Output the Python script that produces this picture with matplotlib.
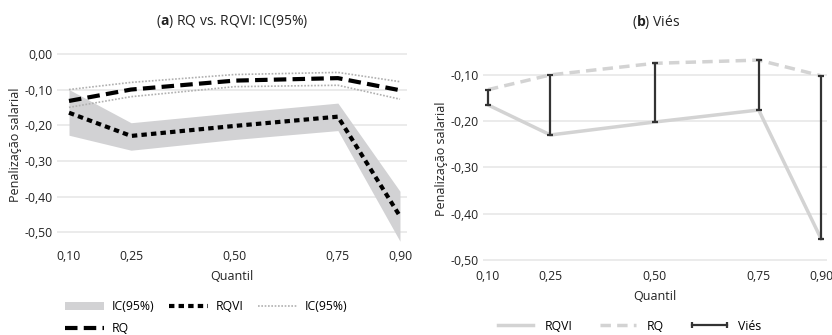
import numpy as np
import matplotlib.pyplot as plt
from matplotlib.patches import Patch
from matplotlib.lines import Line2D

plt.rcParams['font.family'] = ['Open Sans', 'DejaVu Sans']
plt.rcParams['mathtext.fontset'] = 'custom'
plt.rcParams['mathtext.rm'] = 'Open Sans'
plt.rcParams['mathtext.bf'] = 'Open Sans:bold'

# dados
quantis = [0.10, 0.25, 0.50, 0.75, 0.90]
q_labels = ['0,10', '0,25', '0,50', '0,75', '0,90']
rq = [-0.132, -0.100, -0.075, -0.068, -0.102]
rq_lo = [-0.150, -0.120, -0.092, -0.088, -0.127]
rq_hi = [-0.100, -0.080, -0.058, -0.052, -0.078]
rqvi = [-0.165, -0.230, -0.202, -0.176, -0.455]
rqvi_lo = [-0.228, -0.270, -0.240, -0.215, -0.525]
rqvi_hi = [-0.100, -0.193, -0.165, -0.138, -0.385]

left_yticks = [0.0, -0.1, -0.2, -0.3, -0.4, -0.5]
right_yticks = [-0.1, -0.2, -0.3, -0.4, -0.5]

def fmt(v):
    return ('%.2f' % v).replace('.', ',')

fig = plt.figure(figsize=(8.32, 3.35), dpi=100)
W, H = 832, 335
ax0 = fig.add_axes([57/W, 1-243/H, (407-57)/W, (243-46)/H])
ax1 = fig.add_axes([483/W, 1-263/H, (827-483)/W, (263-55)/H])

grid_c = '#e8e8e8'
tc = '#222222'

# (a)
ax0.fill_between(quantis, rqvi_lo, rqvi_hi, color='#d2d2d4', lw=0, zorder=2)
ax0.plot(quantis, rq_hi, color='#b0b0b0', lw=1.2, ls=(0, (1, 1)), zorder=3)
ax0.plot(quantis, rq_lo, color='#b0b0b0', lw=1.2, ls=(0, (1, 1)), zorder=3)
ax0.plot(quantis, rqvi, color='black', lw=3, ls=(0, (1.3, 1)), zorder=4)
ax0.plot(quantis, rq, color='black', lw=3, ls=(0, (3, 1.5)), zorder=4)
ax0.set_xlim(0.071, 0.917)
ax0.set_ylim(-0.53, 0.022)
ax0.set_yticks(left_yticks)
ax0.set_yticklabels([fmt(v) for v in left_yticks])
fig.text(232/W, 1-22/H, '($\\mathbf{a}$) RQ vs. RQVI: IC(95%)', fontsize=10,
         color=tc, ha='center', va='center')

# (b)
ax1.plot(quantis, rqvi, color='#d3d3d3', lw=2.5, zorder=2)
ax1.plot(quantis, rq, color='#d3d3d3', lw=2.5, ls=(0, (3, 1.8)), zorder=2)
for q, a, b in zip(quantis, rqvi, rq):
    ax1.errorbar([q], [(a+b)/2], yerr=[[(b-a)/2]], color='#333333', lw=1.6,
                 capsize=2.5, capthick=1.6, zorder=3)
ax1.set_xlim(0.088, 0.914)
ax1.set_ylim(-0.507, -0.057)
ax1.set_yticks(right_yticks)
ax1.set_yticklabels([fmt(v) for v in right_yticks])
fig.text(656/W, 1-22/H, '($\\mathbf{b}$) Viés', fontsize=10,
         color=tc, ha='center', va='center')

for ax in (ax0, ax1):
    ax.set_xticks(quantis)
    ax.set_xticklabels(q_labels)
    for s in ax.spines.values():
        s.set_visible(False)
    ax.tick_params(length=0, labelsize=8.8, colors=tc)
    ax.tick_params(axis='y', pad=3)
    ax.tick_params(axis='x', pad=5)
    ax.yaxis.grid(True, color=grid_c, lw=1.2, zorder=0)
    ax.set_axisbelow(True)
    ax.set_xlabel('Quantil', fontsize=9, color=tc, labelpad=5)
    ax.set_ylabel('Penalização salarial', fontsize=9, color=tc, labelpad=2)

# legendas
h_ic = Patch(facecolor='#d2d2d4', edgecolor='none')
h_rq = Line2D([], [], color='black', lw=3, ls=(0, (3, 1.5)))
h_rqvi = Line2D([], [], color='black', lw=3, ls=(0, (1.3, 1)))
h_icd = Line2D([], [], color='#b0b0b0', lw=1.2, ls=(0, (1, 1)))
fig.legend([h_ic, h_rq, h_rqvi, h_icd], ['IC(95%)', 'RQ', 'RQVI', 'IC(95%)'],
           ncol=3, frameon=False, fontsize=8.8, loc='upper left',
           bbox_to_anchor=(58/W, 1-293/H), handlelength=3.2, handletextpad=0.6,
           columnspacing=1.2, labelspacing=0.75, borderaxespad=0.2)

h1 = Line2D([], [], color='#d3d3d3', lw=2.5)
h2 = Line2D([], [], color='#d3d3d3', lw=2.5, ls=(0, (3, 1.8)))
h3 = Line2D([], [], color='#333333', lw=1.6, marker='|', markersize=5,
            markeredgewidth=1.6)
fig.legend([h1, h2, h3], ['RQVI', 'RQ', 'Viés'], ncol=3, frameon=False,
           fontsize=8.8, loc='center', bbox_to_anchor=(628/W, 1-326/H),
           handlelength=3.5, handletextpad=0.6, columnspacing=2.0, numpoints=2)

fig.savefig('out.png', dpi=100)
